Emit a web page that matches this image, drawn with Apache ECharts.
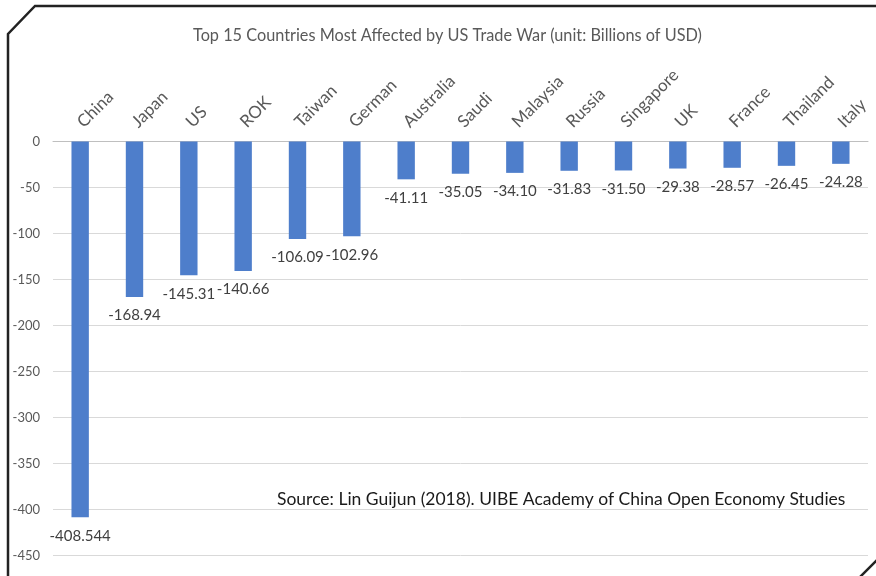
<!DOCTYPE html>
<html><head><meta charset="utf-8">
<script src="https://cdn.jsdelivr.net/npm/echarts@6/dist/echarts.min.js"></script>
<style>html,body{margin:0;padding:0;background:#fff}#c{width:876px;height:576px}</style>
</head><body><div id="c"></div>
<script>
const categories = ['China','Japan','US','ROK','Taiwan','German','Australia','Saudi','Malaysia','Russia','Singapore','UK','France','Thailand','Italy'];
const values = [-408.544,-168.94,-145.31,-140.66,-106.09,-102.96,-41.11,-35.05,-34.10,-31.83,-31.50,-29.38,-28.57,-26.45,-24.28];
const valueLabels = ['-408.544','-168.94','-145.31','-140.66','-106.09','-102.96','-41.11','-35.05','-34.10','-31.83','-31.50','-29.38','-28.57','-26.45','-24.28'];
const titleText = 'Top 15 Countries Most Affected by US Trade War (unit: Billions of USD)';
const sourceText = 'Source: Lin Guijun (2018). UIBE Academy of China Open Economy Studies';

const chart = echarts.init(document.getElementById('c'));
const F = 'Lato, "Open Sans", sans-serif';
chart.setOption({
  animation:false,
  textStyle:{fontFamily:F},
  title:[{text:titleText,left:188,top:23,textStyle:{fontFamily:F,fontSize:16.3,fontWeight:'normal',color:'#595959'}},
         {text:sourceText,left:272,top:485,textStyle:{fontFamily:F,fontSize:17.5,fontWeight:'normal',color:'#1a1a1a'}}],
  grid:{left:53,right:8,top:141.5,bottom:20.5,containLabel:false},
  xAxis:{type:'category',data:categories,position:'top',
    axisLine:{lineStyle:{color:'#bfbfbf'}},axisTick:{show:false},
    axisLabel:{rotate:45,interval:0,fontSize:17,color:'#595959',fontFamily:F,margin:17}},
  yAxis:{type:'value',min:-450,max:0,interval:50,
    axisLine:{show:false},axisTick:{show:false},
    splitLine:{lineStyle:{color:'#d9d9d9'}},
    axisLabel:{fontSize:13,color:'#595959',fontFamily:F,margin:13}},
  series:[{type:'bar',data:values,barWidth:'32%',itemStyle:{color:'#4e7ecb'},
    label:{show:true,position:'bottom',distance:11,fontSize:15,color:'#404040',fontFamily:F,
      formatter:p=>valueLabels[p.dataIndex]}}],
  graphic:[
    {type:'polyline',shape:{points:[[8,576],[8,34],[35,6],[876,6]]},style:{stroke:'#222',lineWidth:2.5,fill:null},silent:true},
    {type:'line',shape:{x1:860,y1:577,x2:877,y2:560},style:{stroke:'#222',lineWidth:2.5},silent:true}
  ]
});
</script></body></html>
